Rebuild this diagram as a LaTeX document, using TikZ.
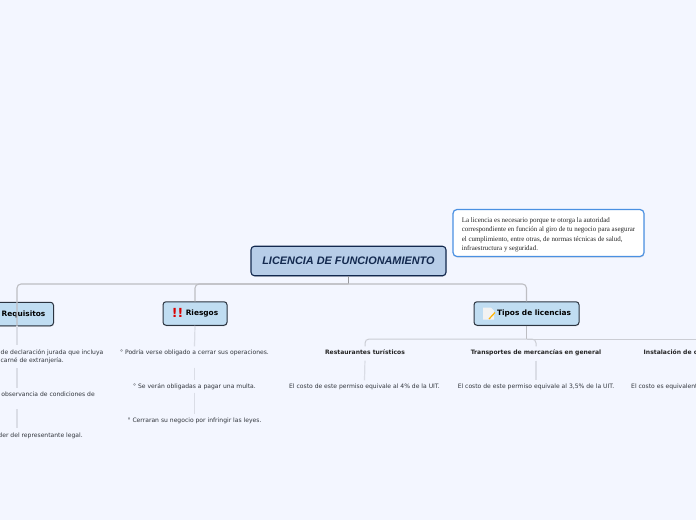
\documentclass[tikz,border=0pt]{standalone}
\usepackage{fontspec}
\setmainfont{DejaVu Sans}
\newfontfamily\titlefont{Liberation Sans}
\newfontfamily\notefont{Liberation Serif}
\usetikzlibrary{positioning, shadows}
\definecolor{pagebg}{HTML}{F3F6FF}
\definecolor{rootfill}{HTML}{B7CDE8}
\definecolor{rootline}{HTML}{13294F}
\definecolor{topicfill}{HTML}{C0DDF2}
\definecolor{topicline}{HTML}{2B3440}
\definecolor{noteline}{HTML}{4A90E2}
\definecolor{linkgray}{HTML}{BDBEC3}
\definecolor{sublink}{HTML}{CBCDD4}
\definecolor{leafgray}{HTML}{DADDE6}
\definecolor{leaftext}{HTML}{33373E}
\tikzset{
    softshadow/.style={drop shadow={shadow xshift=0.4pt, shadow yshift=-1pt, opacity=0.25}},
    rootbox/.style={draw=rootline, line width=1.1pt, fill=rootfill, rounded corners=3.5pt, minimum width=195pt, minimum height=29.5pt, font=\titlefont\bfseries\itshape\fontsize{10.9}{12}\selectfont, text=rootline, softshadow},
    topicbox/.style={draw=topicline, line width=1pt, fill=topicfill, rounded corners=3pt, minimum height=23.5pt, font=\bfseries\fontsize{7.4}{8}\selectfont, text=black, softshadow},
    notebox/.style={draw=noteline, line width=1.2pt, fill=white, rounded corners=4pt, minimum width=191pt, minimum height=47pt, align=left, font=\notefont\fontsize{6.95}{9.2}\selectfont, text=black!85, softshadow},
    leaf/.style={font=\fontsize{6.05}{8}\selectfont, text=leaftext, inner sep=0pt, minimum height=12pt, text height=4.6pt, text depth=1.4pt},
    headleaf/.style={font=\bfseries\fontsize{6.05}{8}\selectfont, text=black!85, inner sep=0pt, minimum height=12pt, text height=4.6pt, text depth=1.4pt},
    trunk/.style={draw=linkgray, line width=1.1pt, rounded corners=4pt},
    subtrunk/.style={draw=sublink, line width=1pt, rounded corners=4pt},
    twig/.style={draw=leafgray, line width=1.2pt}
}
\begin{document}
\begin{tikzpicture}[x=1pt,y=-1pt]
    \useasboundingbox (0,0) rectangle (696,520);
    \clip (0,0) rectangle (696,520);
    \fill[pagebg] (0,0) rectangle (696,520);

    % main nodes
    \node[rootbox] (root) at (348.5,261) {LICENCIA DE FUNCIONAMIENTO};
    \node[notebox] (note) at (548.5,233) {\rule{0pt}{8.5pt}La licencia es necesario porque te otorga la autoridad\\correspondiente en función al giro de tu negocio para asegurar\\el cumplimiento, entre otras, de normas técnicas de salud,\\infraestructura y seguridad.};
    \node[topicbox, minimum width=60pt, anchor=east] (requisitos) at (54,314) {Requisitos};
    \node[topicbox, minimum width=64pt] (riesgos) at (195,313.5) {\hspace*{14pt}Riesgos};
    \node[topicbox, minimum width=105pt] (tipos) at (526.5,313.5) {\hspace*{15pt}Tipos de licencias};

    % icons
    \node[font=\bfseries\fontsize{12.5}{12}\selectfont, text=red!85!black, inner sep=0pt] (alerta) at (177.5,313) {!!};
    \fill[white!90!gray] (483,307.5) -- (491,307.5) -- (494,310.5) -- (494,319.5) -- (483,319.5) -- cycle;
    \draw[orange!60!yellow, line width=1.2pt] (489,319) -- (495,312.5);

    % leaves of Requisitos
    \node[leaf, anchor=east] (req1) at (103.5,352.5) {r de declaración jurada que incluya};
    \node[leaf, anchor=east] (req1b) at (64,360.5) {carné de extranjería.};
    \node[leaf, anchor=east] (req2) at (95,394.5) {e observancia de condiciones de};
    \node[leaf, anchor=east] (req3) at (83,436) {der del representante legal.};
    \coordinate (req1c) at (17,345);
    \coordinate (req1d) at (17,368);
    \coordinate (req2c) at (17,388);
    \coordinate (req2d) at (17,409);
    \coordinate (req3c) at (17,428);
    \coordinate (reqtop) at (17,326);

    % leaves of Riesgos
    \node[leaf] (rie1) at (194.5,352.5) {° Podría verse obligado a cerrar sus operaciones.};
    \node[leaf] (rie2) at (194.5,386.5) {° Se verán obligadas a pagar una multa.};
    \node[leaf] (rie3) at (194.5,420.5) {° Cerraran su negocio por infringir las leyes.};

    % leaves of Tipos
    \node[headleaf] (rest) at (365,352.5) {Restaurantes turísticos};
    \node[leaf] (restcosto) at (364.5,386.5) {El costo de este permiso equivale al 4\% de la UIT.};
    \node[headleaf] (trans) at (536,352.5) {Transportes de mercancías en general};
    \node[leaf] (transcosto) at (536,386.5) {El costo de este permiso equivale al 3,5\% de la UIT.};
    \node[headleaf, anchor=west] (inst) at (643.5,352.5) {Instalación de c};
    \node[leaf, anchor=west] (instcosto) at (631,386.5) {El costo es equivalent};

    % connectors
    \coordinate (fork) at (348.5,284);
    \coordinate (fork2) at (526.5,339);
    \coordinate (offright) at (700,339);
    \draw[linkgray!80!black, line width=0.8pt] (root.south) -- (fork);
    \draw[trunk] (fork) -| (reqtop);
    \draw[trunk] (fork) -| (riesgos.north);
    \draw[trunk] (fork) -| (tipos.north);
    \draw[linkgray, line width=1.1pt] (tipos.south) -- (fork2);
    \draw[subtrunk] (fork2) -| (rest.north);
    \draw[subtrunk] (fork2) -| (trans.north);
    \draw[subtrunk] (fork2) -- (offright);

    \draw[twig] (reqtop) -- (req1c);
    \draw[twig] (req1d) -- (req2c);
    \draw[twig] (req2d) -- (req3c);
    \draw[twig] (riesgos.south) -- (rie1.north);
    \draw[twig, shorten <=9pt] (rie1.south) -- (rie2.north);
    \draw[twig] (rie2.south) -- (rie3.north);
    \draw[twig, shorten <=2pt] (rest.south) -- (restcosto.north);
    \draw[twig, shorten <=2pt] (trans.south) -- (transcosto.north);
\end{tikzpicture}
\end{document}
